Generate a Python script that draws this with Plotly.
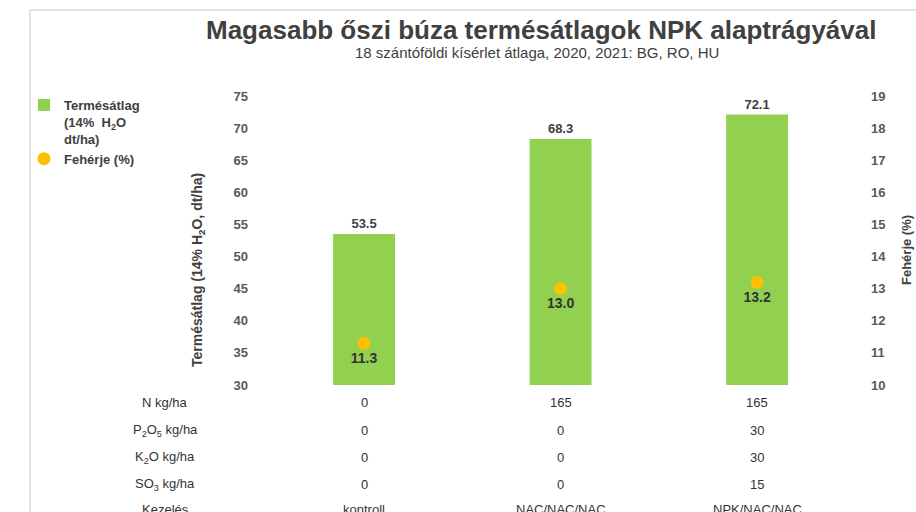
import plotly.graph_objects as go

categories = ["kontroll", "NAC/NAC/NAC", "NPK/NAC/NAC"]
yield_values = [53.5, 68.3, 72.1]
protein_values = [11.3, 13.0, 13.2]
table_rows = ["N kg/ha", "P<sub>2</sub>O<sub>5</sub> kg/ha", "K<sub>2</sub>O kg/ha", "SO<sub>3</sub> kg/ha", "Kezelés"]
n_values = ["0", "165", "165"]
p_values = ["0", "0", "30"]
k_values = ["0", "0", "30"]
s_values = ["0", "0", "15"]
left_ticks = [30, 35, 40, 45, 50, 55, 60, 65, 70, 75]
right_ticks = [10, 11, 12, 13, 14, 15, 16, 17, 18, 19]

W, H = 916, 512
L, R, T, B = 255, 862, 96, 385  # plot area in px


def px(x):
    return (x - L) / (R - L)


def py(y):
    return (B - y) / (B - T)


TXT = "#404040"
FONT = "Liberation Sans"

fig = go.Figure()
fig.add_trace(go.Bar(
    x=list(range(3)), y=yield_values,
    name="Termésátlag<br>(14%  H<sub>2</sub>O<br>dt/ha)",
    marker=dict(color="#92D050", line=dict(width=0)),
    width=0.315,
    text=[f"{v:.1f}" for v in yield_values], textposition="outside",
    textfont=dict(family=FONT, size=13, color=TXT, weight="bold"),
    cliponaxis=False,
))
fig.add_trace(go.Scatter(
    x=list(range(3)), y=protein_values, yaxis="y2",
    name="Fehérje (%)", mode="markers+text",
    marker=dict(color="#FFC000", size=13),
    text=[f"{v:.1f}" for v in protein_values],
    textposition="bottom center",
    textfont=dict(family=FONT, size=14, color="#333333", weight="bold"),
    cliponaxis=False,
))

ann = []
row_y = [402, 430, 457, 484, 509]
row_vals = [n_values, p_values, k_values, s_values, categories]
for lbl, yy, vals in zip(table_rows, row_y, row_vals):
    ann.append(dict(x=px(165), y=py(yy), xref="paper", yref="paper", text=lbl,
                    showarrow=False, font=dict(family=FONT, size=13, color="#333333"),
                    xanchor="center", yanchor="middle"))
    for i, v in enumerate(vals):
        ann.append(dict(x=i, y=py(yy), xref="x", yref="paper", text=v,
                        showarrow=False, font=dict(family=FONT, size=13, color="#333333"),
                        xanchor="center", yanchor="middle"))

ann.append(dict(x=px(541), y=py(30), xref="paper", yref="paper",
                text="Magasabb őszi búza termésátlagok NPK alaptrágyával",
                xanchor="center", yanchor="middle",
                showarrow=False, font=dict(family=FONT, size=26, color=TXT, weight="bold")))
ann.append(dict(x=px(537), y=py(52), xref="paper", yref="paper",
                text="18 szántóföldi kísérlet átlaga, 2020, 2021: BG, RO, HU",
                xanchor="center", yanchor="middle",
                showarrow=False, font=dict(family=FONT, size=15, color=TXT)))
ann.append(dict(x=px(198), y=py(270), xref="paper", yref="paper", textangle=-90,
                text="Termésátlag (14% H<sub>2</sub>O, dt/ha)",
                xanchor="center", yanchor="middle",
                showarrow=False, font=dict(family=FONT, size=14, color=TXT, weight="bold")))
ann.append(dict(x=px(907), y=py(250), xref="paper", yref="paper", textangle=-90,
                text="Fehérje (%)",
                xanchor="center", yanchor="middle",
                showarrow=False, font=dict(family=FONT, size=13, color=TXT, weight="bold")))

shapes = [
    dict(type="line", xref="paper", yref="paper", x0=px(30), x1=px(916), y0=py(10), y1=py(10),
         line=dict(color="#E2E2E2", width=2)),
    dict(type="line", xref="paper", yref="paper", x0=px(30), x1=px(30), y0=py(10), y1=py(512),
         line=dict(color="#E2E2E2", width=2)),
]

fig.update_layout(
    width=W, height=H,
    margin=dict(l=L, r=W - R, t=T, b=H - B, pad=0),
    paper_bgcolor="white", plot_bgcolor="white",
    showlegend=True,
    legend=dict(x=px(24), y=py(90), xanchor="left", yanchor="top",
                font=dict(family=FONT, size=13, color=TXT, weight="bold"),
                bgcolor="rgba(0,0,0,0)", itemwidth=30, tracegroupgap=2,
                traceorder="normal", valign="top"),
    xaxis=dict(range=[-0.555, 2.534], showticklabels=False, showgrid=False,
               zeroline=False, showline=False, ticks=""),
    yaxis=dict(range=[30, 75], tickvals=left_ticks, showgrid=False, zeroline=False,
               showline=False, ticks="", ticklabelstandoff=6,
               tickfont=dict(family=FONT, size=13, color="#595959", weight="bold")),
    yaxis2=dict(range=[10, 19], tickvals=right_ticks, overlaying="y", side="right",
                showgrid=False, zeroline=False, showline=False, ticks="",
                ticklabelstandoff=8,
                tickfont=dict(family=FONT, size=13, color="#595959", weight="bold")),
    annotations=ann, shapes=shapes,
)
fig.write_html("out.html", config={"displayModeBar": False},
               post_script="document.body.style.margin='0';")
